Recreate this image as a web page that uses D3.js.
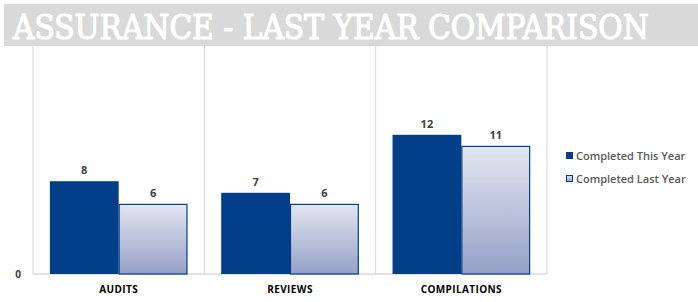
<!DOCTYPE html>
<html>
<head>
<meta charset="utf-8">
<script src="https://cdn.jsdelivr.net/npm/d3@7"></script>
<style>
  body { margin: 0; background: #fff; }
</style>
</head>
<body>
<div id="chart"></div>
<script>
// chart data
const categories = ["AUDITS", "REVIEWS", "COMPILATIONS"];
const seriesNames = ["Completed This Year", "Completed Last Year"];
const thisYear = [8, 7, 12];
const lastYear = [6, 6, 11];
const yTicks = [0];

const W = 698, H = 302;
const plot = { left: 33, right: 547, top: 42, bottom: 274 };

const svg = d3.select("#chart").append("svg")
  .attr("width", W)
  .attr("height", H);

// gradient for last year bars
const defs = svg.append("defs");
const grad = defs.append("linearGradient")
  .attr("id", "lastGrad")
  .attr("x1", 0).attr("y1", 0).attr("x2", 0).attr("y2", 1);
grad.append("stop").attr("offset", "0%").attr("stop-color", "#e4e6f0");
grad.append("stop").attr("offset", "100%").attr("stop-color", "#94a0c7");

const x0 = d3.scaleBand()
  .domain(categories)
  .range([plot.left, plot.right])
  .paddingInner(0)
  .paddingOuter(0);

const x1 = d3.scaleBand()
  .domain(seriesNames)
  .range([0, x0.bandwidth()])
  .paddingOuter(0.245)
  .paddingInner(0);

const y = d3.scaleLinear()
  .domain([0, 20])
  .range([plot.bottom, plot.top]);

// vertical gridlines between categories
const edges = categories.map(c => x0(c)).concat([plot.right]);
svg.selectAll(".vgrid")
  .data(edges)
  .enter().append("line")
  .attr("class", "vgrid")
  .attr("x1", d => d).attr("x2", d => d)
  .attr("y1", plot.top).attr("y2", plot.bottom)
  .attr("stroke", "#d9d9d9")
  .attr("stroke-width", 1);

// baseline
svg.append("line")
  .attr("x1", plot.left).attr("x2", plot.right)
  .attr("y1", y(0)).attr("y2", y(0))
  .attr("stroke", "#d9d9d9")
  .attr("stroke-width", 1.5);

// y tick label
svg.selectAll(".ytick")
  .data(yTicks)
  .enter().append("text")
  .attr("class", "ytick")
  .attr("x", 18)
  .attr("y", d => y(d) + 4)
  .attr("text-anchor", "middle")
  .attr("font-family", "'Open Sans', sans-serif")
  .attr("font-weight", 700)
  .attr("font-size", 10)
  .attr("fill", "#404040")
  .text(d => d);

const rows = categories.map((c, i) => ({ cat: c, values: [thisYear[i], lastYear[i]] }));

const groups = svg.selectAll(".grp")
  .data(rows)
  .enter().append("g")
  .attr("class", "grp")
  .attr("transform", d => "translate(" + x0(d.cat) + ",0)");

groups.selectAll("rect")
  .data(d => d.values.map((v, j) => ({ name: seriesNames[j], v: v, j: j })))
  .enter().append("rect")
  .attr("x", d => x1(d.name) + (d.j === 1 ? 0.5 : 0))
  .attr("y", d => y(d.v))
  .attr("width", d => x1.bandwidth() - (d.j === 1 ? 1 : 0))
  .attr("height", d => y(0) - y(d.v))
  .attr("fill", d => d.j === 0 ? "#023f88" : "url(#lastGrad)")
  .attr("stroke", d => d.j === 0 ? "none" : "#023f88")
  .attr("stroke-width", 1.2);

// value labels
groups.selectAll(".val")
  .data(d => d.values.map((v, j) => ({ name: seriesNames[j], v: v })))
  .enter().append("text")
  .attr("class", "val")
  .attr("x", d => x1(d.name) + x1.bandwidth() / 2)
  .attr("y", d => y(d.v) - 7)
  .attr("text-anchor", "middle")
  .attr("font-family", "'Open Sans', sans-serif")
  .attr("font-weight", 700)
  .attr("font-size", 11)
  .attr("fill", "#404040")
  .text(d => d.v);

// category labels
svg.selectAll(".cat")
  .data(categories)
  .enter().append("text")
  .attr("class", "cat")
  .attr("x", d => x0(d) + x0.bandwidth() / 2)
  .attr("y", 293)
  .attr("text-anchor", "middle")
  .attr("font-family", "'Open Sans', sans-serif")
  .attr("font-weight", 700)
  .attr("font-size", 10)
  .attr("letter-spacing", 0.4)
  .attr("fill", "#000")
  .text(d => d);

// legend
const legend = svg.selectAll(".leg")
  .data(seriesNames)
  .enter().append("g")
  .attr("class", "leg")
  .attr("transform", (d, i) => "translate(566," + (152 + i * 23) + ")");

legend.append("rect")
  .attr("x", (d, i) => i === 1 ? 0.5 : 0)
  .attr("y", (d, i) => i === 1 ? 0.5 : 0)
  .attr("width", (d, i) => i === 1 ? 6 : 7)
  .attr("height", (d, i) => i === 1 ? 6 : 7)
  .attr("fill", (d, i) => i === 0 ? "#023f88" : "url(#lastGrad)")
  .attr("stroke", (d, i) => i === 0 ? "none" : "#023f88")
  .attr("stroke-width", 1);

legend.append("text")
  .attr("x", 10)
  .attr("y", 7.5)
  .attr("font-family", "'Open Sans', sans-serif")
  .attr("font-weight", 600)
  .attr("font-size", 11)
  .attr("fill", "#595959")
  .text(d => d);

// title band
svg.append("rect")
  .attr("x", 4).attr("y", 4)
  .attr("width", W - 4).attr("height", 42)
  .attr("fill", "#d9d9d9");

// title: scale horizontally so it spans the same width as the reference
const titleG = svg.append("g");
const title = titleG.append("text")
  .attr("x", 0)
  .attr("y", 0)
  .attr("font-family", "'DejaVu Serif Condensed', 'DejaVu Serif', serif")
  .attr("font-size", 34)
  .attr("fill", "#fff")
  .attr("stroke", "#fff")
  .attr("stroke-width", 1.1)
  .text("ASSURANCE - LAST YEAR COMPARISON");
const natural = title.node().getComputedTextLength();
titleG.attr("transform", "translate(13,39) scale(" + (636 / natural) + ",1)");
</script>
</body>
</html>
